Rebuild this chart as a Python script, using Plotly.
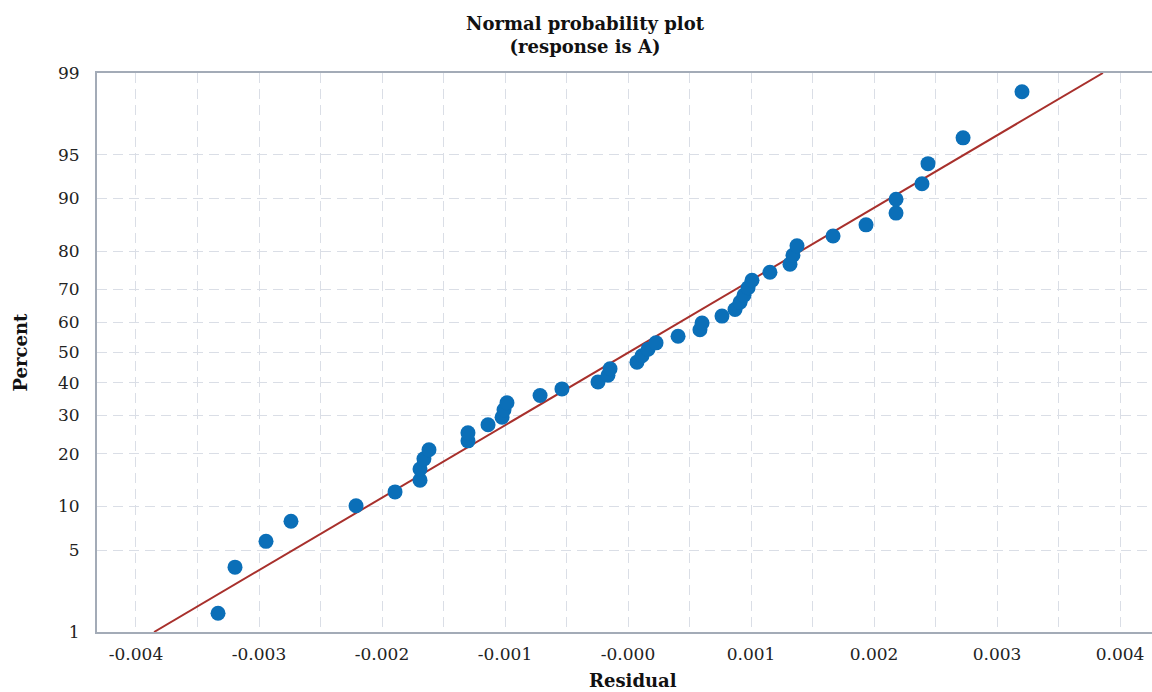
import plotly.graph_objects as go
from statistics import NormalDist

# ---- data ----
residuals = [
    -0.003333, -0.003195, -0.002943, -0.002740, -0.002211, -0.001894,
    -0.001691, -0.001691, -0.001659, -0.001618, -0.001301, -0.001301,
    -0.001138, -0.001024, -0.001008, -0.000984, -0.000715, -0.000537,
    -0.000244, -0.000163, -0.000146, 0.000073, 0.000114, 0.000163,
    0.000228, 0.000407, 0.000585, 0.000602, 0.000764, 0.000870,
    0.000911, 0.000943, 0.000976, 0.001008, 0.001154, 0.001317,
    0.001341, 0.001374, 0.001667, 0.001935, 0.002179, 0.002179,
    0.002390, 0.002439, 0.002724, 0.003203,
]
percents = [
    1.5, 3.7, 5.8, 8.0, 10.1, 12.3, 14.4, 16.6, 18.8, 20.9, 23.1, 25.2,
    27.4, 29.5, 31.7, 33.8, 36.0, 38.1, 40.3, 42.5, 44.6, 46.8, 48.9,
    51.1, 53.2, 55.4, 57.5, 59.7, 61.9, 64.0, 66.2, 68.3, 70.5, 72.6,
    74.8, 76.9, 79.1, 81.3, 83.4, 85.6, 87.7, 89.9, 92.0, 94.2, 96.3, 98.5,
]
fit_mean = 0.000004
fit_sd = 0.001658

y_tick_percents = [1, 5, 10, 20, 30, 40, 50, 60, 70, 80, 90, 95, 99]
x_tick_values = [-0.004, -0.003, -0.002, -0.001, 0.0, 0.001, 0.002, 0.003, 0.004]
x_tick_labels = ["-0.004", "-0.003", "-0.002", "-0.001", "-0.000",
                 "0.001", "0.002", "0.003", "0.004"]

nd = NormalDist()
z_pts = [nd.inv_cdf(p / 100.0) for p in percents]
z_ticks = [nd.inv_cdf(p / 100.0) for p in y_tick_percents]
z_lo, z_hi = nd.inv_cdf(0.01), nd.inv_cdf(0.99)
line_z = [z_lo, z_hi]
line_x = [fit_mean + fit_sd * z for z in line_z]

SERIF = "DejaVu Serif"
GRID = "#dadee6"
AXIS = "#a3abb7"
DASH = "10px,6px"

fig = go.Figure()
fig.add_trace(go.Scatter(
    x=line_x, y=line_z, mode="lines",
    line=dict(color="#a8302c", width=2), hoverinfo="skip", showlegend=False,
))
fig.add_trace(go.Scatter(
    x=residuals, y=z_pts, mode="markers",
    marker=dict(color="#0b6fb8", size=15, line=dict(width=0)),
    showlegend=False,
))

fig.update_layout(
    width=1152, height=692,
    margin=dict(l=97, r=0, t=73, b=60),
    paper_bgcolor="white", plot_bgcolor="white",
    font=dict(family=SERIF, size=17, color="#222222"),
    xaxis=dict(
        range=[-0.004317, 0.00426],
        tickmode="array", tickvals=x_tick_values, ticktext=x_tick_labels,
        showgrid=True, gridcolor=GRID, griddash=DASH, gridwidth=1.3,
        minor=dict(dtick=0.0005, showgrid=True, gridcolor=GRID,
                   griddash=DASH, gridwidth=1.3),
        showline=True, linecolor=AXIS, linewidth=2, mirror=True,
        zeroline=False, ticks="", ticklabelstandoff=6,
        tickfont=dict(family=SERIF, size=17, color="#222222"),
    ),
    yaxis=dict(
        range=[z_lo, z_hi],
        tickmode="array", tickvals=z_ticks,
        ticktext=[str(p) for p in y_tick_percents],
        showgrid=True, gridcolor=GRID, griddash=DASH, gridwidth=1.3,
        showline=True, linecolor=AXIS, linewidth=2,
        zeroline=False, ticks="", ticklabelstandoff=12,
        tickfont=dict(family=SERIF, size=17, color="#222222"),
    ),
    annotations=[
        dict(text="<b>Normal probability plot<br>(response is A)</b>",
             xref="paper", yref="paper", x=(585 - 97) / 1055, y=1,
             xanchor="center", yanchor="bottom", yshift=14, showarrow=False,
             font=dict(family=SERIF, size=18, color="#111111")),
        dict(text="<b>Residual</b>",
             xref="paper", yref="paper", x=(633 - 97) / 1055, y=0,
             xanchor="center", yanchor="middle", yshift=-48, showarrow=False,
             font=dict(family=SERIF, size=18, color="#111111")),
        dict(text="<b>Percent</b>", textangle=-90,
             xref="paper", yref="paper", x=0, y=0.5,
             xanchor="center", yanchor="middle", xshift=-77, showarrow=False,
             font=dict(family=SERIF, size=18, color="#111111")),
    ],
)

fig.write_html("out.html")
